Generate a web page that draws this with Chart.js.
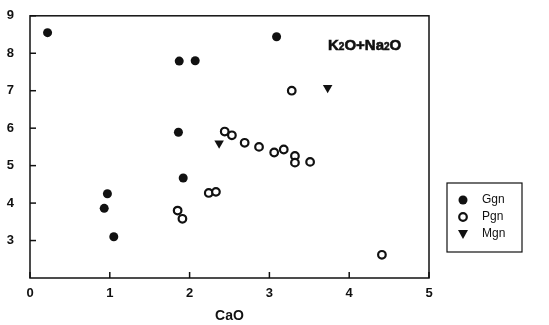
<!DOCTYPE html>
<html>
<head>
<meta charset="utf-8">
<script src="https://cdn.jsdelivr.net/npm/chart.js@4/dist/chart.umd.min.js"></script>
<style>
  html, body { margin: 0; padding: 0; background: #fff; }
  #wrap { width: 549px; height: 325px; }
</style>
</head>
<body>
<div id="wrap"><canvas id="scatterChart" width="549" height="325"></canvas></div>
<script>
// Data (CaO vs K2O+Na2O)
const ggnX = [0.22, 1.87, 2.07, 3.09, 1.86, 1.92, 0.97, 0.93, 1.05];
const ggnY = [8.55, 7.79, 7.80, 8.44, 5.89, 4.67, 4.25, 3.86, 3.10];

const pgnX = [1.85, 1.91, 2.24, 2.33, 3.28, 2.44, 2.53, 2.69, 2.87, 3.06, 3.18, 3.32, 3.32, 3.51, 4.41];
const pgnY = [3.80, 3.58, 4.27, 4.30, 7.00, 5.91, 5.81, 5.61, 5.50, 5.35, 5.43, 5.26, 5.08, 5.10, 2.62];

const mgnX = [2.37, 3.73];
const mgnY = [5.60, 7.08];

const xTicks = [0, 1, 2, 3, 4, 5];
const yTicks = [3, 4, 5, 6, 7, 8, 9];

const ink = "#111";
const font = "'Liberation Sans', Arial, sans-serif";
const toPoints = (xs, ys) => xs.map((x, i) => ({ x: x, y: ys[i] }));

// frame, inward ticks, annotation and boxed legend
const decorations = {
    id: "decorations",
    afterDraw(chart) {
        const ctx = chart.ctx;
        const a = chart.chartArea;
        const sx = chart.scales.x;
        const sy = chart.scales.y;
        ctx.save();
        ctx.strokeStyle = ink;
        ctx.lineWidth = 1.5;
        ctx.strokeRect(a.left, a.top, a.right - a.left, a.bottom - a.top);

        xTicks.forEach((v) => {
            const px = sx.getPixelForValue(v);
            ctx.beginPath();
            ctx.moveTo(px, a.bottom);
            ctx.lineTo(px, a.bottom - 6);
            ctx.stroke();
        });
        yTicks.forEach((v) => {
            const py = sy.getPixelForValue(v);
            ctx.beginPath();
            ctx.moveTo(a.left, py);
            ctx.lineTo(a.left + 6, py);
            ctx.stroke();
        });

        // K2O+Na2O label
        ctx.fillStyle = ink;
        ctx.strokeStyle = ink;
        ctx.lineWidth = 0.6;
        ctx.textBaseline = "alphabetic";
        ctx.textAlign = "left";
        let tx = 328;
        const ty = 50;
        const parts = [["K", 15], ["2", 10], ["O+Na", 15], ["2", 10], ["O", 15]];
        parts.forEach(([t, s]) => {
            ctx.font = "bold " + s + "px " + font;
            ctx.fillText(t, tx, ty);
            ctx.strokeText(t, tx, ty);
            tx += ctx.measureText(t).width;
        });

        // legend box
        const lx = 447, ly = 183, lw = 75, lh = 69;
        ctx.lineWidth = 1.2;
        ctx.strokeRect(lx, ly, lw, lh);
        const items = chart.data.datasets;
        ctx.font = "12px " + font;
        ctx.textBaseline = "middle";
        items.forEach((ds, i) => {
            const cy = ly + 17 + i * 17;
            const cx = lx + 16;
            ctx.beginPath();
            if (ds.pointStyle === "triangle") {
                ctx.moveTo(cx - 5, cy - 4);
                ctx.lineTo(cx + 5, cy - 4);
                ctx.lineTo(cx, cy + 5);
                ctx.closePath();
                ctx.fillStyle = ink;
                ctx.fill();
            } else {
                ctx.arc(cx, cy, ds.pointRadius, 0, Math.PI * 2);
                ctx.fillStyle = ds.pointBackgroundColor;
                ctx.fill();
                ctx.lineWidth = ds.pointBorderWidth;
                ctx.strokeStyle = ink;
                if (ds.pointBorderWidth > 0) ctx.stroke();
            }
            ctx.fillStyle = ink;
            ctx.fillText(ds.label, lx + 35, cy);
        });
        ctx.restore();
    },
};

const ctx = document.getElementById("scatterChart").getContext("2d");
new Chart(ctx, {
    type: "scatter",
    data: {
        datasets: [
            {
                label: "Ggn",
                data: toPoints(ggnX, ggnY),
                pointStyle: "circle",
                pointRadius: 4.5,
                pointBackgroundColor: ink,
                pointBorderColor: ink,
                pointBorderWidth: 0,
            },
            {
                label: "Pgn",
                data: toPoints(pgnX, pgnY),
                pointStyle: "circle",
                pointRadius: 3.8,
                pointBackgroundColor: "#fff",
                pointBorderColor: ink,
                pointBorderWidth: 2.2,
            },
            {
                label: "Mgn",
                data: toPoints(mgnX, mgnY),
                pointStyle: "triangle",
                rotation: 180,
                pointRadius: 5.5,
                pointBackgroundColor: ink,
                pointBorderColor: ink,
                pointBorderWidth: 0,
            },
        ],
    },
    options: {
        responsive: false,
        animation: false,
        layout: { padding: { top: 15, right: 120, left: 0, bottom: 0 } },
        plugins: {
            legend: { display: false },
            tooltip: { enabled: false },
        },
        scales: {
            x: {
                type: "linear",
                min: 0,
                max: 5,
                afterBuildTicks: (s) => { s.ticks = xTicks.map((v) => ({ value: v })); },
                afterFit: (s) => { s.height = 47; },
                grid: { display: false },
                border: { display: false },
                ticks: {
                    color: ink,
                    padding: 0,
                    font: { family: font, size: 13, weight: "bold" },
                },
                title: {
                    display: true,
                    text: "CaO",
                    color: ink,
                    padding: { top: 6, bottom: 0 },
                    font: { family: font, size: 14, weight: "bold" },
                },
            },
            y: {
                type: "linear",
                min: 2,
                max: 9,
                afterBuildTicks: (s) => { s.ticks = yTicks.map((v) => ({ value: v })); },
                afterFit: (s) => { s.width = 30; },
                grid: { display: false },
                border: { display: false },
                ticks: {
                    color: ink,
                    padding: 8,
                    font: { family: font, size: 13, weight: "bold" },
                },
            },
        },
    },
    plugins: [decorations],
});
</script>
</body>
</html>
